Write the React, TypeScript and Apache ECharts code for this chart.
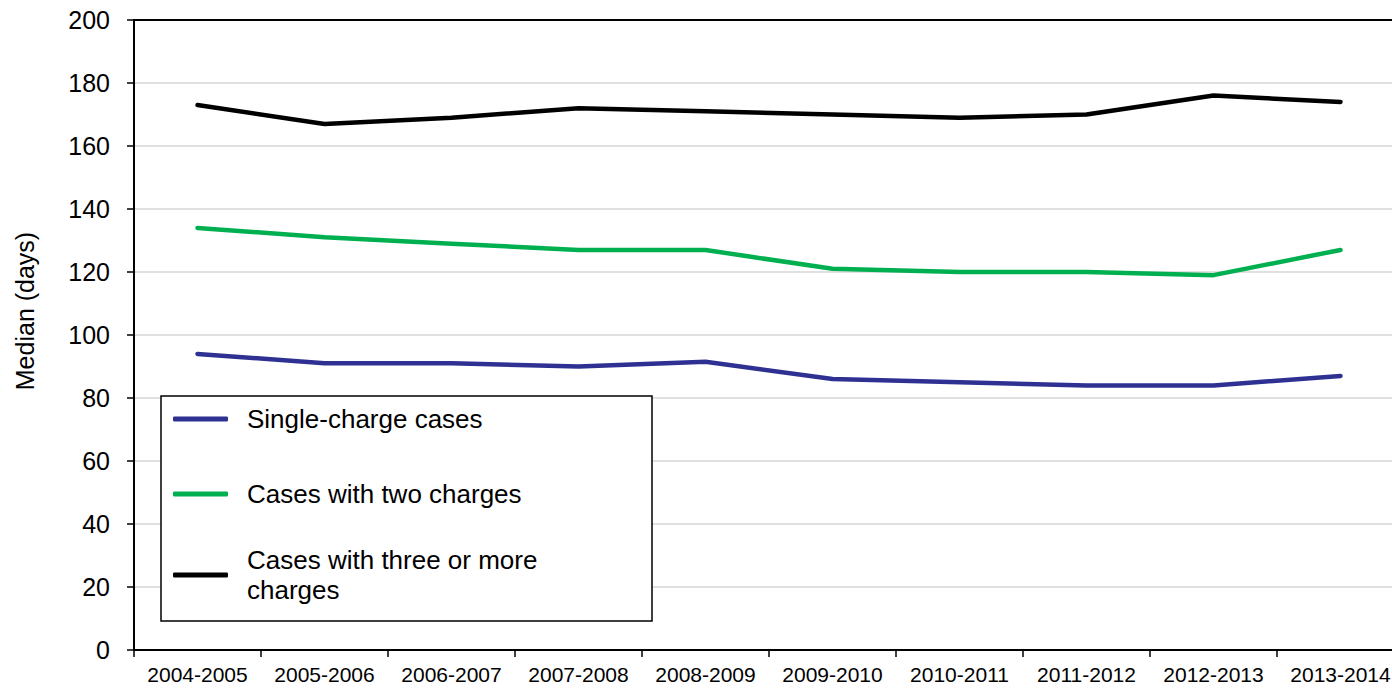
import React, { useEffect, useRef } from "react";
import * as echarts from "echarts";

const categories = [
  "2004-2005", "2005-2006", "2006-2007", "2007-2008", "2008-2009",
  "2009-2010", "2010-2011", "2011-2012", "2012-2013", "2013-2014",
];
const singleCharge = [94, 91, 91, 90, 91.5, 86, 85, 84, 84, 87];
const twoCharges = [134, 131, 129, 127, 127, 121, 120, 120, 119, 127];
const threeOrMore = [173, 167, 169, 172, 171, 170, 169, 170, 176, 174];
const seriesNames = ["Single-charge cases", "Cases with two charges", "Cases with three or more charges"];
const yTicks = { min: 0, max: 200, interval: 20 };

const FONT = "'Liberation Sans', Arial, sans-serif";
const COLORS = ["#2E3192", "#00B050", "#000000"];

export default function App() {
  const ref = useRef<HTMLDivElement>(null);
  useEffect(() => {
    if (!ref.current) return;
    const chart = echarts.init(ref.current, null, { renderer: "svg" });
    const legendBase = (name: string, top: number, lh: number) => ({
      orient: "vertical",
      left: 173,
      top,
      padding: 0,
      data: [name],
      icon: "roundRect",
      itemWidth: 55,
      itemHeight: 5,
      z: 10,
      selectedMode: false,
      formatter: (n: string) => (n === seriesNames[2] ? "Cases with three or more\ncharges" : n),
      textStyle: { fontFamily: FONT, fontSize: 26, color: "#000", lineHeight: lh, padding: [0, 0, 0, 14] },
    });
    chart.setOption({
      animation: false,
      backgroundColor: "#fff",
      textStyle: { fontFamily: FONT },
      grid: { left: 134, top: 20, bottom: 43, right: 0, containLabel: false },
      xAxis: [
        {
          type: "category",
          data: categories,
          boundaryGap: true,
          axisLine: { show: true, lineStyle: { color: "#000", width: 2 } },
          axisTick: { show: true, length: 7, interval: 0, lineStyle: { color: "#000", width: 1.5 } },
          axisLabel: { interval: 0, fontSize: 21, color: "#000", margin: 14, fontFamily: FONT },
          splitLine: { show: false },
        },
        {
          type: "category",
          data: categories,
          position: "top",
          boundaryGap: true,
          axisLine: { show: true, lineStyle: { color: "#000", width: 2 } },
          axisTick: { show: false },
          axisLabel: { show: false },
        },
      ],
      yAxis: {
        type: "value",
        min: yTicks.min,
        max: yTicks.max,
        interval: yTicks.interval,
        axisLine: { show: true, lineStyle: { color: "#000", width: 2 } },
        axisTick: { show: true, length: 7, lineStyle: { color: "#000", width: 1.5 } },
        axisLabel: { fontSize: 25, color: "#000", margin: 24, fontFamily: FONT },
        splitLine: { show: true, lineStyle: { color: "#d6d6d6", width: 1.5 } },
      },
      legend: [
        legendBase(seriesNames[0], 404, 30),
        legendBase(seriesNames[1], 479, 30),
        legendBase(seriesNames[2], 545, 30),
      ],
      graphic: [
        {
          type: "rect",
          z: 3,
          shape: { x: 161, y: 396, width: 491, height: 225 },
          style: { fill: "#fff", stroke: "#000", lineWidth: 1.5 },
        },
        {
          type: "text",
          x: 25,
          y: 311,
          rotation: Math.PI / 2,
          style: {
            text: "Median (days)",
            fontSize: 25,
            fontFamily: FONT,
            fill: "#000",
            align: "center",
            verticalAlign: "middle",
          },
        },
      ],
      series: [
        { name: seriesNames[0], data: singleCharge },
        { name: seriesNames[1], data: twoCharges },
        { name: seriesNames[2], data: threeOrMore },
      ].map((s, i) => ({
        ...s,
        type: "line",
        symbol: "none",
        smooth: false,
        z: 2,
        itemStyle: { color: COLORS[i] },
        lineStyle: { color: COLORS[i], width: 4.5, cap: "round", join: "round" },
      })),
    });
    return () => chart.dispose();
  }, []);
  return (
    <div style={{ position: "fixed", left: 0, top: 0, width: 1392, height: 693, overflow: "hidden", background: "#fff" }}>
      <div ref={ref} style={{ position: "absolute", left: 0, top: 0, width: 1404, height: 693 }} />
    </div>
  );
}
